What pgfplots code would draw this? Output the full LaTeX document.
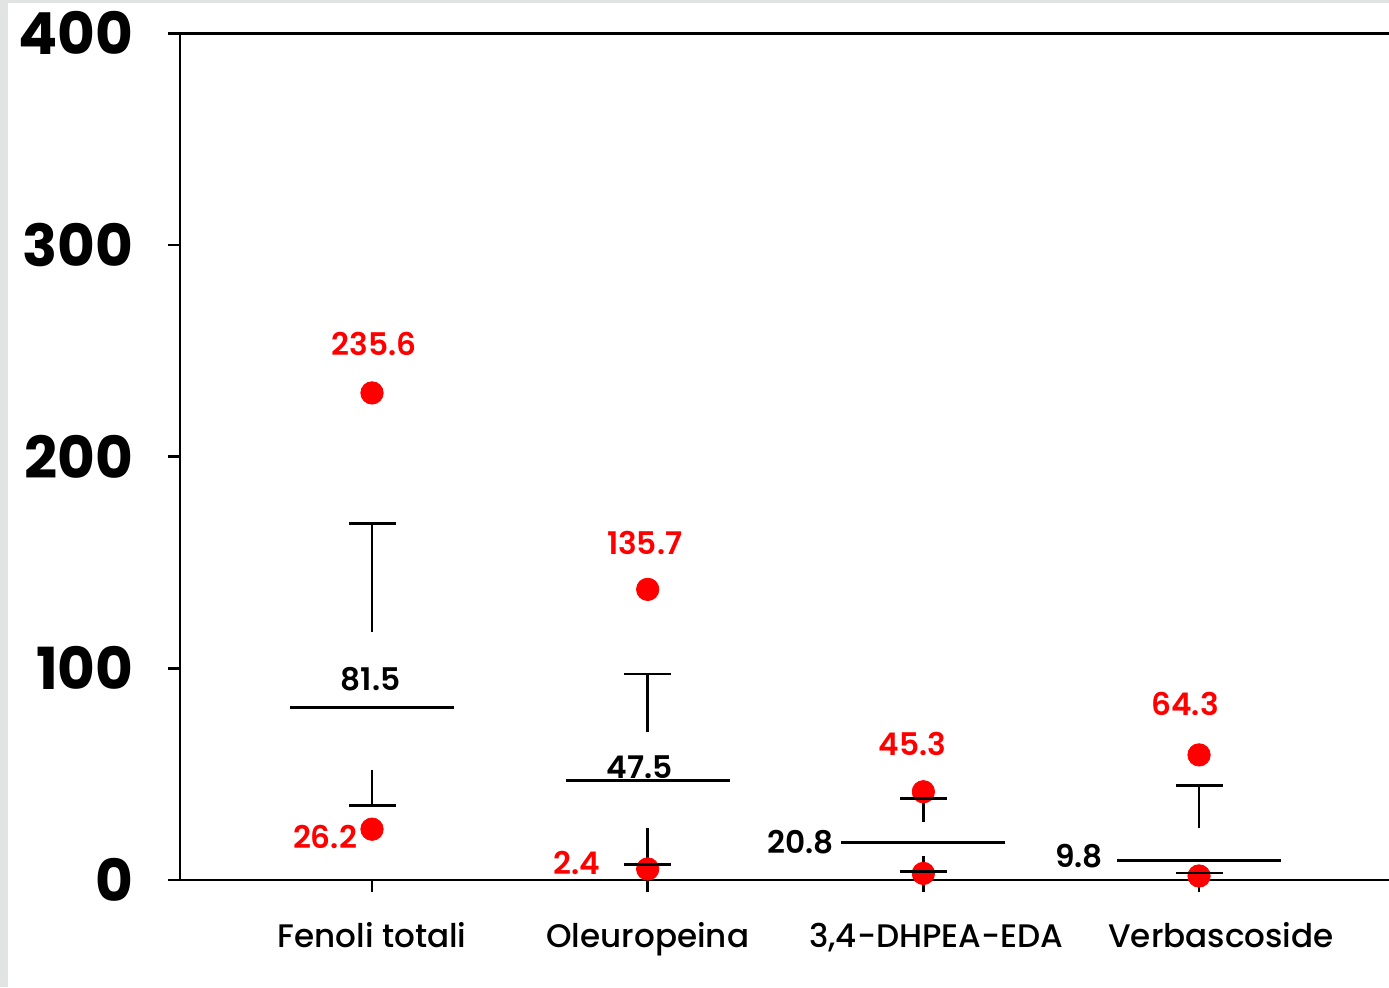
\documentclass[border=0pt]{standalone}
\usepackage{fontspec}
\setmainfont{Poppins}
\newfontfamily\pmed{Poppins Medium}
\newfontfamily\psemi{Poppins SemiBold}
\usepackage{pgfplots}
\pgfplotsset{compat=1.18}
\usepackage{pgfplotstable}
\definecolor{frame}{RGB}{226,228,228}
\pgfplotstableread{
x  mean  upcap lowcap dmax   dmin
1  81.6  168.5 35.1   230.1  24.0
2  46.9  97.3  7.4    137.3  5.2
3  17.6  38.5  3.9    41.7   3.1
4  9.3   44.7  3.2    59.1   1.9
}\data
\pgfplotstableread{
x    y
1    117.2
1    168.5
nan  nan
1    52.0
1    35.1
nan  nan
2    70.1
2    97.3
nan  nan
2    24.4
2    7.4
nan  nan
3    27.6
3    38.5
nan  nan
3    11.3
3    3.9
nan  nan
4    24.7
4    44.7
nan  nan
4    4.4
4    3.2
}\whiskers
\begin{document}
\begin{tikzpicture}
\fill[frame] (0,0) rectangle (694.5pt,493.5pt);
\fill[white] (4pt,0) rectangle (694.5pt,492pt);
\useasboundingbox (0,0) rectangle (694.5pt,493.5pt);
\begin{axis}[
  at={(90pt,53.5pt)}, anchor=south west,
  scale only axis, width=604.5pt, height=423.35pt,
  xmin=0.3035, xmax=4.689, ymin=0, ymax=400,
  axis line style={draw=none},
  tick align=outside, tick pos=left,
  major tick length=6pt,
  every tick/.style={black, line width=1.25pt},
  xtick={1,2,3,4},
  xticklabels={Fenoli totali,Oleuropeina,{\hspace*{13pt}3,4-DHPEA-EDA},{\hspace*{22pt}Verbascoside}},
  ytick={0,100,200,300,400},
  /pgf/number format/assume math mode=true,
  yticklabel style={font=\fontsize{29}{29}\selectfont\bfseries, anchor=east, inner sep=0pt, xshift=-17pt},
  xticklabel style={font=\fontsize{16.3}{16.3}\pmed\selectfont, anchor=base, inner sep=0pt, yshift=-27.5pt},
  clip=false,
  unbounded coords=jump,
]
\draw[line width=1.25pt] (rel axis cs:0,0) -- (rel axis cs:1,0);
\draw[line width=1.25pt] (rel axis cs:0,0) -- (rel axis cs:0,1);
\draw[line width=1.25pt] (rel axis cs:0,1) -- (rel axis cs:1,1);
% dots
\addplot[only marks, mark=*, mark size=5.6pt, red, mark options={draw=red, fill=red}] table[x=x, y=dmax] {\data};
\addplot[only marks, mark=*, mark size=5.6pt, red, mark options={draw=red, fill=red}] table[x=x, y=dmin] {\data};
% means
\addplot[only marks, mark=-, mark size=41pt, black, mark options={line width=1.25pt}] table[x=x, y=mean] {\data};
% whiskers
\addplot[black, line width=1.25pt, no marks] table[x=x, y=y] {\whiskers};
% caps
\addplot[only marks, mark=-, mark size=11.75pt, black, mark options={line width=1.25pt}] table[x=x, y=upcap] {\data};
\addplot[only marks, mark=-, mark size=11.75pt, black, mark options={line width=1.25pt}] table[x=x, y=lowcap] {\data};
% labels
\tikzset{lab/.style={anchor=base, inner sep=0pt, font=\fontsize{15.6}{15.6}\psemi\selectfont}}
\node[lab, red] at (axis cs:1.007,248.0) {235.6};
\node[lab] at (axis cs:0.995,89.3) {81.5};
\node[lab, red] at (axis cs:0.8295,15.1) {26.2};
\node[lab, red] at (axis cs:1.989,154.0) {135.7};
\node[lab] at (axis cs:1.971,48.0) {47.5};
\node[lab, red] at (axis cs:1.7443,2.4) {2.4};
\node[lab, red] at (axis cs:2.960,58.7) {45.3};
\node[lab] at (axis cs:2.5556,12.3) {20.8};
\node[lab, red] at (axis cs:3.949,77.6) {64.3};
\node[lab] at (axis cs:3.5647,5.8) {9.8};
\end{axis}
\end{tikzpicture}
\end{document}
